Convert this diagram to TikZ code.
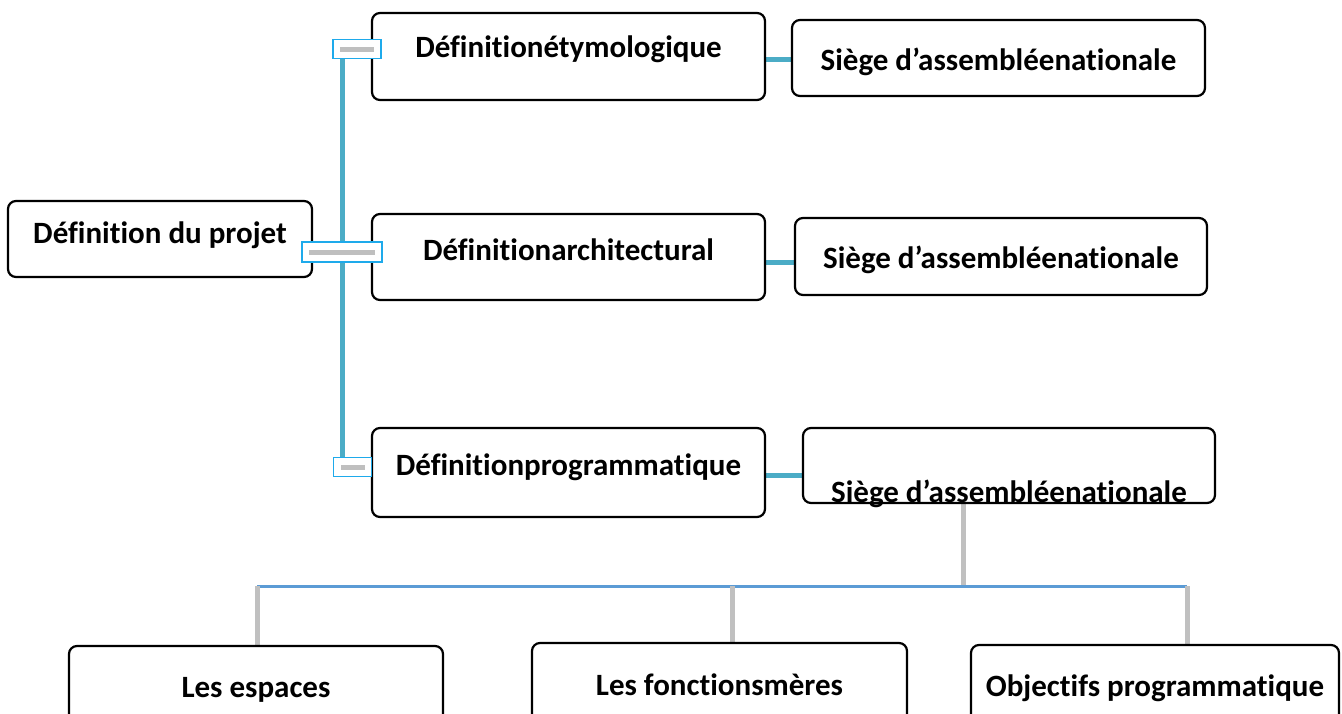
\documentclass[tikz,border=0pt]{standalone}
\usepackage{fontspec}
\setmainfont{Carlito}[RawFeature={-liga;-clig;-calt;-dlig}]
\usetikzlibrary{positioning, backgrounds}
\definecolor{trunkteal}{RGB}{75,172,198}
\definecolor{handleblue}{RGB}{30,170,235}
\definecolor{busblue}{RGB}{91,155,213}
\definecolor{dropgray}{RGB}{192,192,192}

\begin{document}
\begin{tikzpicture}[x=1pt, y=-1pt,
    box/.style={rectangle, draw, line width=2.2pt, rounded corners=8pt, fill=white, inner sep=0pt, text depth=0pt, font=\fontsize{31}{37}\selectfont\bfseries},
    textdrop/.style={text height=#1},
    handle/.style={rectangle, draw=handleblue, line width=1.6pt, fill=white, inner sep=0pt,
        path picture={\fill[gray!50] ([xshift=7pt, yshift=-2.5pt]path picture bounding box.west) rectangle ([xshift=-7pt, yshift=2.5pt]path picture bounding box.east);}},
    trunk/.style={trunkteal, line width=5pt},
    link/.style={trunkteal, line width=5pt},
    bus/.style={busblue, line width=3pt},
    drop/.style={dropgray, line width=5pt}]

    \useasboundingbox (0,0) rectangle (1342,713);
    \clip (0,0) rectangle (1342,713);

    % Root
    \node[box, minimum width=304pt, minimum height=76pt, textdrop=8pt] (projet) at (160,239) {Définition du projet};

    % Definitions
    \node[box, minimum width=393pt, minimum height=87pt, textdrop=1pt] (etym) at (568.5,56.5) {Définitionétymologique};
    \node[box, minimum width=393pt, minimum height=86pt, textdrop=6pt] (archi) at (568.5,257) {Définitionarchitectural};
    \node[box, minimum width=393pt, minimum height=89pt, textdrop=5pt] (prog) at (568.5,472.5) {Définitionprogrammatique};

    % Sieges
    \node[box, minimum width=413pt, minimum height=76pt, textdrop=24pt] (siege1) at (998.5,58) {Siège d’assembléenationale};
    \node[box, minimum width=412pt, minimum height=77pt, textdrop=23pt] (siege2) at (1001,256.5) {Siège d’assembléenationale};
    \node[box, minimum width=412pt, minimum height=75pt, textdrop=73pt] (siege3) at (1009,465.5) {Siège d’assembléenationale};

    % Bottom row
    \node[box, minimum width=374pt, minimum height=86pt, textdrop=16pt] (espaces) at (256,689) {Les espaces};
    \node[box, minimum width=375pt, minimum height=86pt, textdrop=18pt] (fonctions) at (719.5,686) {Les fonctionsmères};
    \node[box, minimum width=368pt, minimum height=86pt, textdrop=16pt] (objectifs) at (1155,688) {Objectifs programmatique};

    % Handles
    \node[handle, minimum width=48pt, minimum height=19pt] (h1) at (357,49) {};
    \node[handle, minimum width=80pt, minimum height=20pt] (h2) at (342,252) {};
    \node[handle, minimum width=38pt, minimum height=19pt] (h3) at (352.5,467) {};

    \coordinate (j0) at (963,586);
    \coordinate (j1) at (257,586);
    \coordinate (j2) at (732,586);
    \coordinate (j3) at (1187,586);

    \begin{scope}[on background layer]
    \draw[trunk] (h1.south -| h2) -- (h3.north -| h2);
    \draw[link] (etym.east) ++(0,2.5) coordinate (a1) -- (a1 -| siege1.west);
    \draw[link] (archi.east) ++(0,5) coordinate (a2) -- (a2 -| siege2.west);
    \draw[link] (prog.east) ++(0,3) coordinate (a3) -- (a3 -| siege3.west);

    \draw[drop] (siege3.south -| j0) -- (j0);
    \draw[bus] (j1) -- (j3);
    \draw[drop] (j1) -- (j1 |- espaces.north);
    \draw[drop] (j2) -- (j2 |- fonctions.north);
    \draw[drop] (j3) -- (j3 |- objectifs.north);
    \end{scope}

\end{tikzpicture}
\end{document}
